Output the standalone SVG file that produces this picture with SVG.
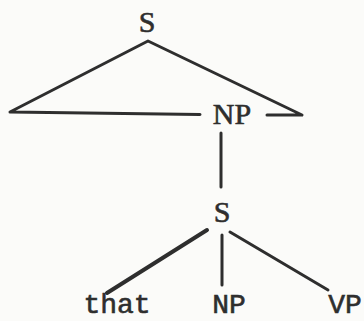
<svg xmlns="http://www.w3.org/2000/svg" width="364" height="321" viewBox="0 0 364 321">
<style>
.lbl{fill:#2e2e2e;stroke:#2e2e2e;stroke-width:0.6;text-anchor:middle}
.big{font-family:"Liberation Serif","Times New Roman",serif;font-size:30px}
.sm{font-family:"Liberation Mono","Courier New",monospace;font-size:28px}
.edge{stroke:#2e2e2e;stroke-width:3;fill:none;stroke-linecap:round;stroke-linejoin:round}
</style>
<rect width="364" height="321" fill="#fbfbf9"/>
<g id="connectors">
<path class="edge" d="M200,114.5 L10,112 L148,41 L302,115 L267,115"/>
<path class="edge" d="M221,133 L221,187"/>
<path class="edge" d="M207,230 L107,293" style="stroke-width:4"/>
<path class="edge" d="M222,235 L222,285"/>
<path class="edge" d="M230,232 L328,290"/>
</g>
<g id="n-s-top"><text class="lbl big" x="147" y="32">S</text></g>
<g id="n-np-mid"><text class="lbl big" x="232" y="124">NP</text></g>
<g id="n-s-mid"><text class="lbl big" x="222" y="222">S</text></g>
<g id="n-that"><text class="lbl sm" x="117" y="313">that</text></g>
<g id="n-np-bot"><text class="lbl sm" x="229" y="313">NP</text></g>
<g id="n-vp"><text class="lbl sm" x="345" y="313">VP</text></g>
</svg>
